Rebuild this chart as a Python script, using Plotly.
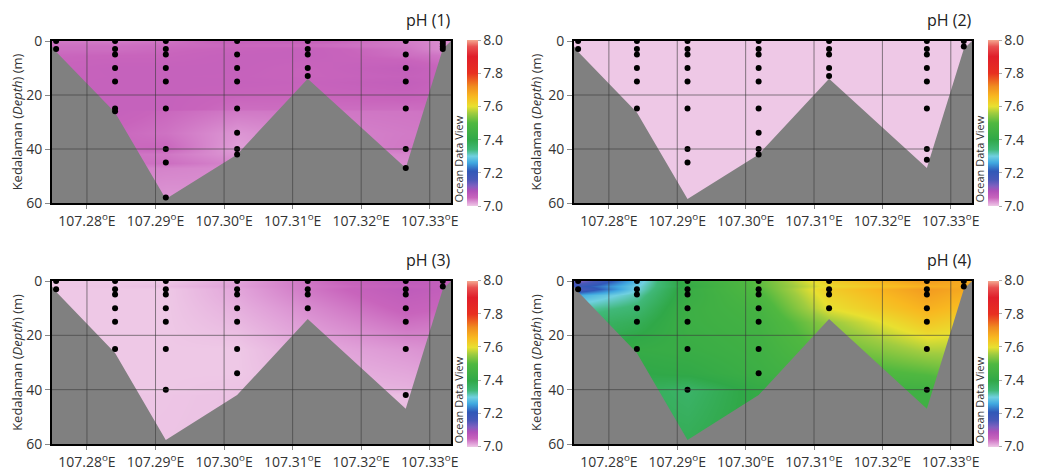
import plotly.graph_objects as go

PAGE_W, PAGE_H = 1037, 470
BODY = 8                      # default page margin around the figure
W, H = PAGE_W - BODY, PAGE_H - BODY

# ---------------- data ----------------
st_lon = [107.2755, 107.2841, 107.2915, 107.3019, 107.3122, 107.3265, 107.3319]
x_range = [107.2749, 107.3331]
depth_range = [0, 60]

bath_lon = [107.2749, 107.2755, 107.2841, 107.2915, 107.3019, 107.3122, 107.3265, 107.3319, 107.3331]
bath_depth = [2, 4, 26.5, 58.5, 42, 14, 47, 3, 0]

x_ticks = [107.28, 107.29, 107.30, 107.31, 107.32, 107.33]
x_ticktext = ["107.28<sup>o</sup>E", "107.29<sup>o</sup>E", "107.30<sup>o</sup>E",
              "107.31<sup>o</sup>E", "107.32<sup>o</sup>E", "107.33<sup>o</sup>E"]
y_ticks = [0, 20, 40, 60]
cb_ticks = [7.0, 7.2, 7.4, 7.6, 7.8, 8.0]

titles = ["pH (1)", "pH (2)", "pH (3)", "pH (4)"]

# panel 1
p1_depth = [[0, 3], [0, 3, 5, 10, 15, 25, 26], [0, 3, 5, 10, 15, 25, 40, 45, 58],
            [0, 5, 10, 15, 25, 34, 40, 42], [0, 3, 5, 10, 13], [0, 5, 10, 15, 25, 40, 47], [0, 1, 2, 3]]
p1_ph = [[7.04, 7.045], [7.038, 7.045, 7.05, 7.055, 7.055, 7.055, 7.055],
         [7.042, 7.048, 7.05, 7.055, 7.055, 7.055, 7.05, 7.045, 7.025],
         [7.055, 7.055, 7.055, 7.055, 7.045, 7.025, 7.02, 7.025], [7.055, 7.055, 7.055, 7.05, 7.05],
         [7.038, 7.045, 7.06, 7.06, 7.045, 7.04, 7.025], [7.03, 7.03, 7.03, 7.03]]
# panel 2
p2_depth = [[0, 3], [0, 3, 5, 10, 15, 25], [0, 3, 5, 10, 15, 25, 40, 45],
            [0, 3, 5, 10, 15, 25, 34, 40, 42], [0, 3, 5, 10, 13], [0, 3, 5, 10, 15, 25, 40, 44], [0, 2]]
p2_ph = [[7.0, 7.0], [7.0, 7.0, 7.0, 7.0, 7.0, 7.0], [7.0, 7.0, 7.0, 7.0, 7.0, 7.0, 7.0, 7.0],
         [7.0, 7.0, 7.0, 7.0, 7.0, 7.0, 7.0, 7.0, 7.0], [7.0, 7.0, 7.0, 7.0, 7.0],
         [7.0, 7.0, 7.0, 7.0, 7.0, 7.0, 7.0, 7.0], [7.0, 7.0]]
# panel 3
p3_depth = [[0, 3], [0, 3, 5, 10, 15, 25], [0, 3, 5, 10, 15, 25, 40],
            [0, 3, 5, 10, 15, 25, 34], [0, 3, 5, 10], [0, 3, 5, 10, 15, 25, 42], [0, 2]]
p3_ph = [[7.0, 7.0], [7.0, 7.0, 7.0, 7.0, 7.0, 7.0], [7.0, 7.0, 7.0, 7.0, 7.0, 7.0, 7.0],
         [7.018, 7.017, 7.016, 7.012, 7.008, 7.0, 7.0], [7.042, 7.04, 7.037, 7.03],
         [7.068, 7.066, 7.062, 7.054, 7.044, 7.025, 7.005], [7.06, 7.06]]
# panel 4
p4_depth = [[0, 3], [0, 3, 5, 10, 15, 25], [0, 3, 5, 10, 15, 25, 40],
            [0, 3, 5, 10, 15, 25, 34], [0, 3, 5, 10], [0, 3, 5, 10, 15, 25, 40], [0, 2]]
p4_ph = [[7.12, 7.16], [7.28, 7.3, 7.32, 7.35, 7.38, 7.42], [7.43, 7.43, 7.43, 7.44, 7.44, 7.43, 7.36],
         [7.51, 7.5, 7.49, 7.47, 7.46, 7.45, 7.44], [7.63, 7.63, 7.62, 7.6],
         [7.7, 7.7, 7.69, 7.67, 7.64, 7.57, 7.45], [7.68, 7.68]]

panels = [(p1_depth, p1_ph), (p2_depth, p2_ph), (p3_depth, p3_ph), (p4_depth, p4_ph)]

odv_scale = [[0.0, '#eec8e6'], [0.02, '#e0a0d8'], [0.05, '#c864bc'], [0.09, '#b050b8'],
             [0.12, '#8060c0'], [0.16, '#4858b8'], [0.21, '#3058b8'], [0.26, '#40a8e0'],
             [0.30, '#70d0e0'], [0.34, '#40b878'], [0.40, '#30a848'], [0.50, '#50b840'],
             [0.56, '#a0cc40'], [0.60, '#e8e030'], [0.66, '#f8b820'], [0.72, '#f08c20'],
             [0.80, '#e83020'], [0.90, '#e01e2a'], [0.96, '#e85050'], [1.0, '#f4a890']]

# ---------------- layout geometry (page pixels) ----------------
boxes = [(52, 451, 41, 203), (574, 972, 41, 203), (52, 451, 281, 444), (574, 972, 281, 444)]
GRAY = '#808080'
FONT = 'Open Sans'


def px(x):
    return (x - BODY) / W


def py(y):
    return 1 - (y - BODY) / H


fig = go.Figure()
layout = dict(width=W, height=H, margin=dict(l=0, r=0, t=0, b=0, autoexpand=False),
              paper_bgcolor='white', plot_bgcolor=GRAY, showlegend=False,
              font=dict(family=FONT, color='#333333', size=14))
annotations = []
shapes = []

for i, ((dep, ph), box) in enumerate(zip(panels, boxes)):
    l, r, t, b = box
    n = i + 1
    xa = 'x' if n == 1 else f'x{n}'
    ya = 'y' if n == 1 else f'y{n}'

    # sample table and a grid holding the samples (gaps filled by plotly's connectgaps)
    xs, ys, zs = [], [], []
    for lon, ds, vs in zip(st_lon, dep, ph):
        for d, v in zip(ds, vs):
            xs.append(lon)
            ys.append(d)
            zs.append(v)
    gx = [x_range[0]] + st_lon + [x_range[1]]
    gy = sorted(set(ys) | set(depth_range))
    gz = [[None] * len(gx) for _ in gy]
    for x, y, z in zip(xs, ys, zs):
        gz[gy.index(y)][gx.index(x)] = z

    cb = dict(x=px(r + 16), xanchor='left', xpad=0, ypad=0, thickness=11,
              len=166 / H, y=py((t + b) / 2 + 1), yanchor='middle',
              tickvals=cb_ticks, tickformat='.1f', outlinewidth=0,
              ticks='outside', ticklen=3, tickcolor='#aaaaaa',
              tickfont=dict(size=14, family=FONT, color='#333333'))
    fig.add_trace(go.Contour(
        x=gx, y=gy, z=gz, xaxis=xa, yaxis=ya, connectgaps=True,
        colorscale=odv_scale, zmin=7.0, zmax=8.0, zauto=False,
        contours=dict(coloring='heatmap', showlines=False),
        line=dict(width=0), colorbar=cb, showscale=True, hoverinfo='skip'))
    # bottom topography
    fig.add_trace(go.Scatter(
        x=bath_lon + [bath_lon[-1], bath_lon[0]], y=bath_depth + [60, 60],
        xaxis=xa, yaxis=ya, mode='lines', fill='toself', fillcolor=GRAY,
        line=dict(width=0, color=GRAY), hoverinfo='skip'))
    # sample points
    fig.add_trace(go.Scatter(x=xs, y=ys, xaxis=xa, yaxis=ya, mode='markers',
                             marker=dict(color='black', size=6), hoverinfo='skip'))

    axx = dict(domain=[px(l), px(r)], range=x_range, anchor=ya, automargin=False,
               tickvals=x_ticks, ticktext=x_ticktext, showgrid=False, zeroline=False,
               showline=True, mirror=True, linecolor='black', linewidth=2,
               ticks='outside', ticklen=4, tickcolor='#888888',
               tickfont=dict(size=14, family=FONT, color='#333333'), layer='above traces')
    axy = dict(domain=[py(b), py(t)], range=depth_range[::-1], anchor=xa, automargin=False,
               tickvals=y_ticks, showgrid=False, zeroline=False,
               showline=True, mirror=True, linecolor='black', linewidth=2,
               ticks='outside', ticklen=5, tickcolor='#888888',
               tickfont=dict(size=14, family=FONT, color='#333333'), layer='above traces',
               title=dict(text='Kedalaman (<i>Depth</i>) (m)', standoff=4,
                          font=dict(size=13, family=FONT, color='#333333')))
    layout['xaxis' if n == 1 else f'xaxis{n}'] = axx
    layout['yaxis' if n == 1 else f'yaxis{n}'] = axy

    for xv in x_ticks:
        shapes.append(dict(type='line', xref=xa, yref=f'{ya} domain', x0=xv, x1=xv, y0=0, y1=1,
                           line=dict(color='#3a3a3a', width=1), opacity=0.6, layer='above'))
    for yv in y_ticks[1:-1]:
        shapes.append(dict(type='line', xref=f'{xa} domain', yref=ya, x0=0, x1=1, y0=yv, y1=yv,
                           line=dict(color='#3a3a3a', width=1), opacity=0.6, layer='above'))

    annotations.append(dict(text=titles[i], xref='paper', yref='paper',
                            x=px(r - 23), y=py(t - 21),
                            xanchor='center', yanchor='middle', showarrow=False,
                            font=dict(size=16, family=FONT, color='#222222')))
    annotations.append(dict(text='Ocean Data View', xref='paper', yref='paper',
                            x=px(r + 7), y=py(b + 2), xanchor='center', yanchor='bottom',
                            textangle=-90, showarrow=False,
                            font=dict(size=11, family=FONT, color='#333333')))

layout['annotations'] = annotations
layout['shapes'] = shapes
fig.update_layout(**layout)
fig.write_html("out.html")
